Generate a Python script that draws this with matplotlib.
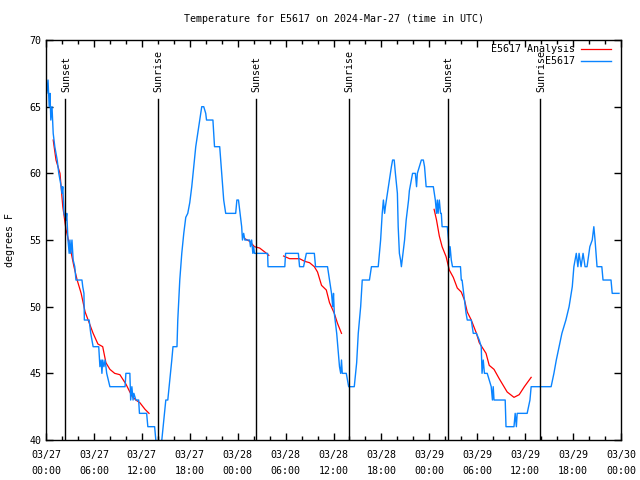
import matplotlib
matplotlib.use("Agg")
import matplotlib.pyplot as plt
import numpy as np

plt.rcParams['font.family'] = ['DejaVu Sans Mono']

# hours since 03/27 00:00 UTC, observed temperature (deg F)
obs_hours = [0.0, 0.1, 0.25, 0.4, 0.5, 0.6, 0.75, 0.9, 1.1, 1.4, 1.6, 1.9, 2.0, 2.1, 2.25, 2.5, 2.6,
             2.75, 2.9, 3.0, 3.1, 3.25, 3.4, 3.6, 3.75, 4.5, 4.6, 4.75, 4.8, 5.4, 5.5, 5.6, 5.9, 6.6,
             6.75, 6.9, 7.0, 7.1, 7.25, 7.4, 7.6, 8.0, 9.9, 10.0, 10.5, 10.6, 10.75, 10.9, 11.0, 11.25,
             11.6, 11.7, 12.6, 12.75, 13.6, 13.75, 14.0, 14.4, 14.5, 14.75, 15.0, 15.25, 15.5, 15.75,
             15.9, 16.4, 16.5, 16.75, 17.0, 17.25, 17.5, 17.75, 18.0, 18.25, 18.5, 18.75, 19.0, 19.25,
             19.5, 19.75, 20.0, 20.1, 20.9, 21.1, 21.75, 22.0, 22.25, 22.5, 23.75, 23.9, 24.1, 24.4,
             24.5, 24.6, 24.75, 24.9, 25.5, 25.6, 25.75, 25.9, 26.0, 26.1, 27.75, 27.8, 29.9, 30.0,
             31.6, 31.75, 32.25, 32.6, 33.6, 33.75, 35.25, 35.5, 35.75, 35.9, 36.0, 36.1, 36.4, 36.5,
             36.75, 36.9, 37.0, 37.1, 37.6, 37.75, 37.9, 38.6, 38.9, 39.1, 39.4, 39.6, 40.5, 40.75,
             41.6, 41.9, 42.1, 42.25, 42.4, 42.5, 42.75, 43.0, 43.25, 43.4, 43.6, 43.75, 44.0, 44.1,
             44.25, 44.4, 44.5, 44.6, 44.9, 45.1, 45.4, 45.5, 45.75, 45.9, 46.25, 46.4, 46.5, 46.75,
             47.0, 47.25, 47.4, 47.6, 48.5, 48.75, 48.9, 49.0, 49.1, 49.25, 49.4, 49.5, 49.6, 50.25,
             50.4, 50.5, 50.6, 50.75, 50.9, 51.9, 52.0, 52.1, 52.4, 52.6, 52.75, 53.25, 53.5, 53.9,
             54.25, 54.5, 54.6, 54.75, 54.9, 55.25, 55.5, 55.75, 55.9, 56.0, 56.1, 57.5, 57.6, 58.6,
             58.75, 58.9, 59.0, 60.25, 60.6, 60.75, 63.25, 63.6, 63.9, 64.25, 64.6, 65.1, 65.5, 65.9,
             66.1, 66.4, 66.6, 66.75, 67.0, 67.25, 67.5, 67.75, 68.1, 68.4, 68.6, 68.75, 69.0, 69.6,
             69.75, 70.75, 70.9, 71.75]
obs_temps = [67, 66, 67, 65, 66, 64, 65, 63, 62, 61, 60, 59, 58.5, 59, 57, 56.5, 57,
             55, 54, 55, 54, 55, 53.5, 53, 52, 52, 51.5, 51, 49, 49, 48.5, 48, 47, 47,
             45.5, 46, 45, 46, 45.5, 46, 45, 44, 44, 45, 45, 43, 44, 43, 43.5, 43,
             43, 42, 42, 41, 41, 40, 38.5, 38.5, 40, 41.5, 43, 43, 44.5, 46,
             47, 47, 49, 52, 54, 55.5, 56.7, 57, 57.8, 59, 60.5, 62, 63, 64,
             65, 65, 64.5, 64, 64, 62, 62, 60, 58, 57, 57, 58, 58, 56.5,
             56, 55, 55.5, 55, 55, 54.5, 55, 54, 54.5, 54, 54, 53, 53, 54,
             54, 53, 53, 54, 54, 53, 53, 52, 51, 50, 51, 49.5, 48, 47.3,
             45.5, 45, 46, 45, 45, 44.5, 44, 44, 45.8, 48, 50, 52, 52, 53,
             53, 55, 57, 58, 57, 57.5, 58.5, 59.5, 60.5, 61, 61, 60, 58.5, 56,
             54, 53.5, 53, 53.5, 55, 56.5, 58, 58.7, 59.5, 60, 60, 59, 60, 60.5,
             61, 61, 60.5, 59, 59, 58, 57, 58, 57, 58, 57, 57, 56, 56,
             55, 53.7, 54.5, 53.5, 53, 53, 52, 52, 50.5, 49.5, 49, 49, 48, 48,
             47.5, 47, 45, 46, 45, 45, 44.5, 44, 43, 44, 43, 43, 41, 41,
             42, 41, 42, 42, 43, 44, 44, 45, 46, 47, 48, 49, 50, 51.5,
             53, 54, 53, 54, 53, 54, 53, 53, 54.5, 55, 56, 55, 53, 53,
             52, 52, 51, 51]

# analysis segments (hours, deg F)
ana1_hours = [0.9, 1.25, 1.75, 2.1, 2.5, 3.0, 3.5, 3.9, 4.4, 4.9, 5.4, 5.9, 6.5, 7.1, 7.5, 8.0,
              8.6, 9.25, 10.0, 10.75, 11.25, 11.75, 12.4, 12.9]
ana1_temps = [62.5, 61, 60, 57.5, 55.8, 54.5, 53, 52, 51, 49.6, 48.8, 48, 47.2, 47, 45.8, 45.3,
              45, 44.9, 44.2, 43.3, 43.0, 42.8, 42.3, 42.0]
ana2a_hours = [24.9, 25.5, 26.1, 26.75, 27.4, 27.9]
ana2a_temps = [55.1, 54.9, 54.5, 54.4, 54.1, 53.85]
ana2b_hours = [29.75, 30.5, 31.75, 32.4, 33.0, 33.6, 34.0, 34.5, 35.1, 35.5, 36.1, 36.5, 37.0]
ana2b_temps = [53.8, 53.6, 53.6, 53.4, 53.3, 53.0, 52.6, 51.6, 51.25, 50.3, 49.5, 48.75, 48.0]
ana3_hours = [48.6, 48.9, 49.25, 49.6, 50.1, 50.5, 51.0, 51.5, 52.0, 52.4, 52.75, 53.25, 53.9,
              54.25, 55.1, 55.5, 56.1, 56.75, 57.1, 57.75, 58.6, 59.25, 59.9, 60.75]
ana3_temps = [57.3, 56.5, 55.3, 54.5, 53.75, 52.75, 52.2, 51.4, 51.1, 50.5, 49.6, 49.0, 48.0,
              47.3, 46.5, 45.6, 45.3, 44.6, 44.25, 43.6, 43.2, 43.4, 44.0, 44.7]

sun_hours = [2.4, 14.0, 26.3, 37.9, 50.3, 61.9]
sun_names = ['Sunset', 'Sunrise', 'Sunset', 'Sunrise', 'Sunset', 'Sunrise']

tick_labels = ['03/27\n00:00', '03/27\n06:00', '03/27\n12:00', '03/27\n18:00', '03/28\n00:00',
               '03/28\n06:00', '03/28\n12:00', '03/28\n18:00', '03/29\n00:00', '03/29\n06:00',
               '03/29\n12:00', '03/29\n18:00', '03/30\n00:00']

fs = 7.2
fig = plt.figure(figsize=(6.4, 4.8), dpi=100)
ax = fig.add_axes([0.0719, 0.0833, 0.8984, 0.8333])

red = '#ff0000'
blue = '#0a84ff'

ax.plot(ana1_hours, ana1_temps, color=red, lw=0.9, label='E5617 Analysis')
ax.plot(ana2a_hours, ana2a_temps, color=red, lw=0.9)
ax.plot(ana2b_hours, ana2b_temps, color=red, lw=0.9)
ax.plot(ana3_hours, ana3_temps, color=red, lw=0.9)
ax.plot(obs_hours, obs_temps, color=blue, lw=1.0, label='E5617')

for h, name in zip(sun_hours, sun_names):
    ax.plot([h, h], [40, 65.6], color='black', lw=1.0)
    ax.text(h + 0.1, 66.1, name, rotation=90, ha='center', va='bottom', fontsize=fs)

ax.set_xlim(0, 72)
ax.set_ylim(40, 70)
ax.set_xticks(np.arange(0, 73, 6))
ax.set_xticklabels(tick_labels, fontsize=fs, linespacing=1.8)
ax.set_xticks(np.arange(0, 73, 2), minor=True)
ax.set_yticks(np.arange(40, 71, 5))
ax.tick_params(axis='both', which='both', direction='in', top=True, right=True, labelsize=fs)
ax.tick_params(which='major', length=5, width=1)
ax.tick_params(which='minor', length=3, width=1)
ax.tick_params(axis='x', pad=7)
ax.set_ylabel('degrees F', fontsize=fs, labelpad=10)
ax.set_title('Temperature for E5617 on 2024-Mar-27 (time in UTC)', fontsize=fs, pad=13)

for s in ax.spines.values():
    s.set_linewidth(1.0)

ax.legend(loc='upper right', bbox_to_anchor=(0.9896, 1.0), frameon=False, markerfirst=False,
          fontsize=fs, handlelength=3.0, borderaxespad=0.0, labelspacing=0.2, handletextpad=0.6)

fig.savefig('out.png', dpi=100)
